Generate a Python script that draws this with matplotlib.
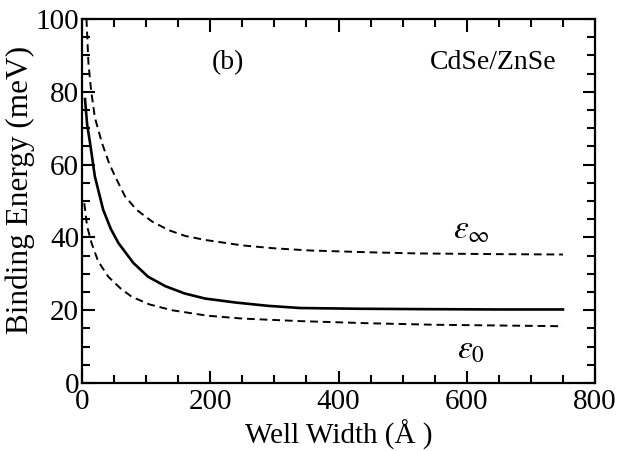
import matplotlib
matplotlib.use("Agg")
import matplotlib.pyplot as plt
from matplotlib.ticker import MultipleLocator

# Data
x_inf = [7, 10, 14, 20, 31, 42, 51.5, 67, 85, 109, 135, 161, 192, 250, 300, 356, 450, 522, 650, 750]
y_inf = [100, 88, 80.7, 73, 66, 60.5, 56.8, 51.3, 47.6, 44.4, 42, 40.4, 39.3, 37.8, 37.0, 36.4, 35.9, 35.6, 35.4, 35.3]

x_sol = [4.7, 8, 12.5, 20, 33, 45, 57, 80, 103, 130, 160, 192, 240, 290, 340, 430, 522, 650, 750]
y_sol = [78, 71, 66, 56.8, 47.6, 42.3, 38.4, 33, 29.2, 26.6, 24.6, 23.2, 22.1, 21.2, 20.6, 20.4, 20.3, 20.2, 20.2]

x_zero = [3.6, 8, 15, 25, 41, 60, 77.5, 105, 140, 195, 250, 340, 450, 550, 650, 750]
y_zero = [49.4, 43, 38.4, 33.5, 29.2, 26, 23.7, 21.6, 20, 18.5, 17.7, 17, 16.4, 16, 15.8, 15.6]

xlabel = "Well Width (Å )"
ylabel = "Binding Energy (meV)"
panel_label = "(b)"
system_label = "CdSe/ZnSe"
label_inf = r"$\varepsilon_\infty$"
label_zero = r"$\varepsilon_0$"

plt.rcParams['font.family'] = ['Liberation Serif', 'DejaVu Serif']
plt.rcParams['mathtext.fontset'] = 'stix'

fig = plt.figure(figsize=(6.18, 4.51), dpi=100)
ax = fig.add_axes([82/618, 1-383/451, (595-82)/618, (383-19)/451])

ax.plot(x_inf, y_inf, color='black', lw=1.4, ls=(0, (4, 2.5)))
ax.plot(x_sol, y_sol, color='black', lw=1.9, ls='-')
ax.plot(x_zero, y_zero, color='black', lw=1.4, ls=(0, (4, 2.5)))

ax.set_xlim(0, 800)
ax.set_ylim(0, 100)
ax.xaxis.set_major_locator(MultipleLocator(200))
ax.xaxis.set_minor_locator(MultipleLocator(50))
ax.yaxis.set_major_locator(MultipleLocator(20))
ax.yaxis.set_minor_locator(MultipleLocator(5))
ax.tick_params(which='both', direction='in', top=True, right=True, width=1.5, labelsize=21)
ax.tick_params(which='major', length=9)
ax.tick_params(which='minor', length=6)
ax.tick_params(axis='x', pad=4)
ax.tick_params(axis='y', pad=2)
for s in ax.spines.values():
    s.set_linewidth(1.6)

ax.set_xlabel(xlabel, fontsize=21)
ax.set_ylabel(ylabel, fontsize=22.5)
ax.xaxis.set_label_coords(0.5, -0.10)
ax.yaxis.set_label_coords(-0.092, 0.53)

ax.text(228, 88, panel_label, fontsize=20, ha='center', va='center')
ax.text(641, 88, system_label, fontsize=20, ha='center', va='center')
ax.text(607, 42, label_inf, fontsize=24, ha='center', va='center')
ax.text(607, 9, label_zero, fontsize=24, ha='center', va='center')

fig.savefig("out.png", dpi=100)
